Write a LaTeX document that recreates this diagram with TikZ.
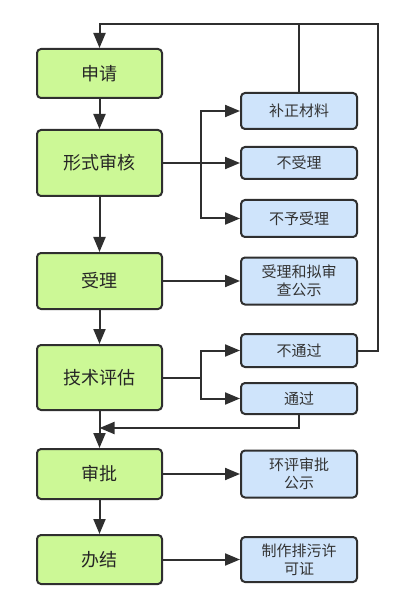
\documentclass[tikz,border=0pt]{standalone}
\usepackage{fontspec}
\newfontfamily\cjk{Noto Sans CJK SC}
\usetikzlibrary{arrows.meta}
\definecolor{stepgreen}{HTML}{CCF896}
\definecolor{outblue}{HTML}{CFE4FB}
\definecolor{ink}{HTML}{2F2F2F}

\begin{document}
\begin{tikzpicture}[
    x=1pt, y=-1pt,
    stage/.style={draw=ink, line width=2pt, rounded corners=4pt, fill=stepgreen,
      minimum width=125pt, text=black!85, font=\cjk\fontsize{18}{22}\selectfont},
    result/.style={draw=ink, line width=2pt, rounded corners=4pt, fill=outblue,
      minimum width=116pt, align=center, text=black!80, font=\cjk\fontsize{15}{18}\selectfont},
    line/.style={draw=ink, line width=2pt},
    arr/.style={line, -{Triangle[length=15pt, width=12pt]}},
  ]
  \useasboundingbox (0,0) rectangle (411,601);

  % --- main stages -----------------------------------------------------------
  \node[stage, minimum height=49pt] (apply)   at (99.5,73.5)  {申请};
  \node[stage, minimum height=66pt] (formal)  at (99.5,163)   {形式审核};
  \node[stage, minimum height=56pt] (accept)  at (99.5,281)   {受理};
  \node[stage, minimum height=65pt] (tech)    at (99.5,377.5) {技术评估};
  \node[stage, minimum height=50pt] (approve) at (99.5,474)   {审批};
  \node[stage, minimum height=49pt] (finish)  at (99.5,559.5) {办结};

  % --- outcomes ----------------------------------------------------------------
  \node[result, minimum height=36pt] (supp)   at (299,111)   {补正材料};
  \node[result, minimum height=32pt] (refuse) at (299,163)   {不受理};
  \node[result, minimum height=37pt] (deny)   at (299,218.5) {不予受理};
  \node[result, minimum height=47pt] (pub)    at (299,281)   {受理和拟审\\查公示};
  \node[result, minimum height=33pt] (fail)   at (299,350.5) {不通过};
  \node[result, minimum height=31pt] (pass)   at (299,398.5) {通过};
  \node[result, minimum height=47pt] (notice) at (299,474)   {环评审批\\公示};
  \node[result, minimum height=45pt] (permit) at (299,559.5) {制作排污许\\可证};

  % --- helper points -------------------------------------------------------
  \coordinate (fork1) at (201,163);
  \coordinate (fork2) at (201,377.5);
  \coordinate (topL)  at (99.5,24);
  \coordinate (topR)  at (378,24);
  \coordinate (merge) at (99.5,428);

  % --- main flow -------------------------------------------------------------
  \draw[arr] (apply)   -- (formal);
  \draw[arr] (formal)  -- (accept);
  \draw[arr] (accept)  -- (tech);
  \draw[arr] (tech)    -- (approve);
  \draw[arr] (approve) -- (finish);

  % --- branches to outcomes --------------------------------------------------
  \draw[line] (formal.east) -- (fork1);
  \foreach \out in {supp, refuse, deny} {
    \draw[arr] (fork1) |- (\out.west);
  }
  \draw[arr] (accept) -- (pub);
  \draw[line] (tech.east) -- (fork2);
  \foreach \out in {fail, pass} {
    \draw[arr] (fork2) |- (\out.west);
  }
  \draw[arr] (approve) -- (notice);
  \draw[arr] (finish) -- (permit);

  % --- loops back --------------------------------------------------------------
  \draw[arr] (fail.east) -| (topR) -- (topL) -- (apply.north);
  \draw[line] (supp.north) -- (supp.north |- topL);
  \draw[arr] (pass.south) |- (merge);

\end{tikzpicture}
\end{document}
